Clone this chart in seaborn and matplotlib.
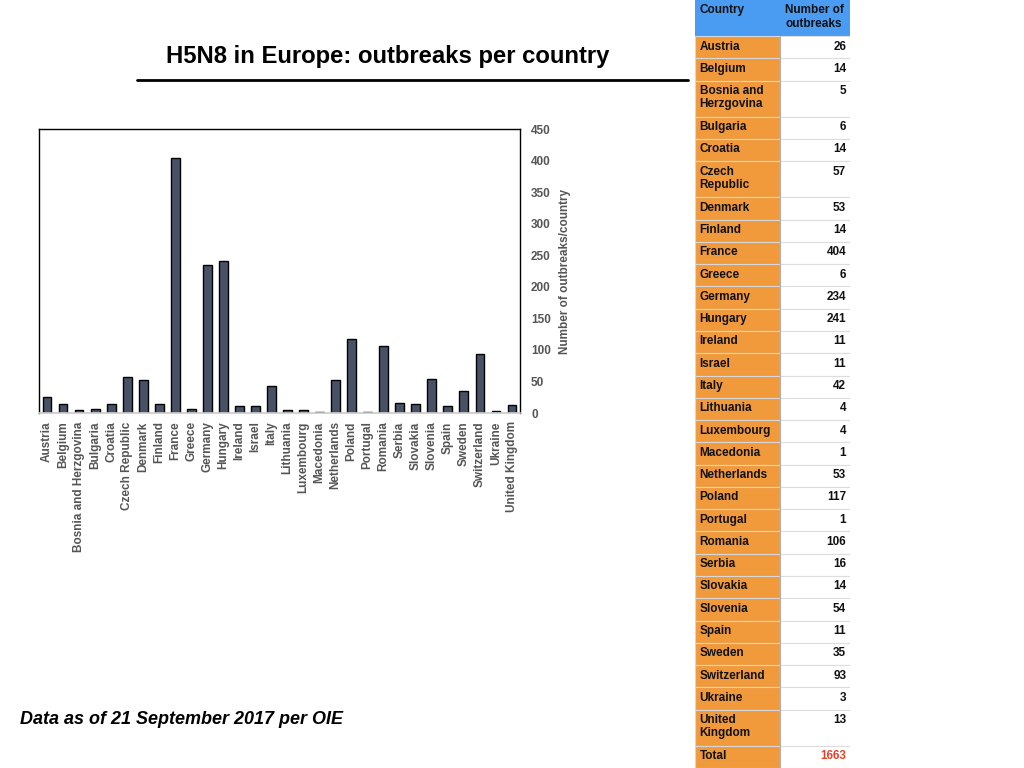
import matplotlib
matplotlib.use("Agg")
import matplotlib.pyplot as plt
from matplotlib.lines import Line2D
from matplotlib.patches import Rectangle
import numpy as np
import seaborn as sns


countries = [
    "Austria", "Belgium", "Bosnia and Herzgovina", "Bulgaria", "Croatia",
    "Czech Republic", "Denmark", "Finland", "France", "Greece", "Germany",
    "Hungary", "Ireland", "Israel", "Italy", "Lithuania", "Luxembourg",
    "Macedonia", "Netherlands", "Poland", "Portugal", "Romania", "Serbia",
    "Slovakia", "Slovenia", "Spain", "Sweden", "Switzerland", "Ukraine",
    "United Kingdom",
]
outbreaks = [
    26, 14, 5, 6, 14, 57, 53, 14, 404, 6, 234, 241, 11, 11, 42, 4, 4, 1,
    53, 117, 1, 106, 16, 14, 54, 11, 35, 93, 3, 13,
]
# table labels as they are wrapped in the side table
table_labels = [
    "Austria", "Belgium", "Bosnia and\nHerzgovina", "Bulgaria", "Croatia",
    "Czech\nRepublic", "Denmark", "Finland", "France", "Greece", "Germany",
    "Hungary", "Ireland", "Israel", "Italy", "Lithuania", "Luxembourg",
    "Macedonia", "Netherlands", "Poland", "Portugal", "Romania", "Serbia",
    "Slovakia", "Slovenia", "Spain", "Sweden", "Switzerland", "Ukraine",
    "United\nKingdom",
]
header = ["Country", "Number of\noutbreaks"]
total_label = "Total"

TITLE = "H5N8 in Europe: outbreaks per country"
NOTE = "Data as of 21 September 2017 per OIE"
YLABEL = "Number of outbreaks/country"

BAR_COLOR = "#485266"
ORANGE = "#f09a3c"
BLUE = "#4a9cf2"
GREY_TXT = "#555555"


def draw_chart(fig):
    ax = fig.add_axes([39 / 1024, 1 - 413 / 768, 481 / 1024, 284 / 768])
    sns.barplot(x=countries, y=outbreaks, color=BAR_COLOR, saturation=1,
                edgecolor="black", linewidth=1, width=0.55, ax=ax)
    ax.set_xlim(-0.5, len(countries) - 0.5)
    ax.set_ylim(0, 450)
    ax.set_yticks(np.arange(0, 451, 50))
    ax.yaxis.tick_right()
    ax.yaxis.set_label_position("right")
    ax.tick_params(axis="y", length=0, pad=8, labelsize=8.5, labelcolor=GREY_TXT)
    for lab in ax.get_yticklabels():
        lab.set_fontweight("bold")
    ax.set_ylabel(YLABEL, fontsize=8.5, fontweight="bold", color=GREY_TXT, labelpad=6)

    ax.set_xticks(range(len(countries)))
    ax.set_xticklabels(countries, rotation=90, fontsize=8.5, fontweight="bold", color=GREY_TXT)
    ax.set_xticks(np.arange(len(countries) + 1) - 0.5, minor=True)
    ax.tick_params(axis="x", which="major", length=0, pad=6)
    ax.tick_params(axis="x", which="minor", length=4, color="#cccccc", width=1)

    for side in ["top", "left", "right"]:
        ax.spines[side].set_color("black")
        ax.spines[side].set_linewidth(1)
        ax.spines[side].set_visible(True)
    ax.spines["bottom"].set_color("#cccccc")
    ax.spines["bottom"].set_visible(True)
    ax.grid(False)


def draw_table(fig):
    tx = fig.add_axes([695 / 1024, 0, 155 / 1024, 1])
    col_split = 85 / 155
    rows = [(header[0], header[1], "header")]
    rows += [(lab, str(v), "body") for lab, v in zip(table_labels, outbreaks)]
    rows += [(total_label, str(sum(outbreaks)), "total")]

    heights = [1.62 if "\n" in a or "\n" in b else 1.0 for a, b, _ in rows]
    tops = np.concatenate([[0], np.cumsum(heights)[:-1]])
    total_h = sum(heights)

    for (left, right, kind), top, h in zip(rows, tops, heights):
        lcol = BLUE if kind == "header" else ORANGE
        rcol = BLUE if kind == "header" else "white"
        tx.add_patch(Rectangle((0, top), col_split, h, facecolor=lcol,
                               edgecolor="#d8d8d8" if kind != "header" else BLUE, lw=0.8))
        tx.add_patch(Rectangle((col_split, top), 1 - col_split, h, facecolor=rcol,
                               edgecolor="#dddddd" if kind != "header" else BLUE, lw=0.8))
        ty = top + 0.2
        tx.text(0.03, ty, left, ha="left", va="top", fontsize=8.5,
                fontweight="bold", color="#111111", linespacing=1.15,
                multialignment="left")
        if kind == "header":
            tx.text(col_split + 0.035, ty, right, ha="left", va="top", fontsize=8.5,
                    fontweight="bold", color="#111111", linespacing=1.15,
                    multialignment="left")
        else:
            tx.text(0.975, ty, right, ha="right", va="top", fontsize=8.5,
                    fontweight="bold", linespacing=1.15,
                    color="#e0442c" if kind == "total" else "#111111")

    tx.plot([col_split, col_split], [tops[1], total_h], color="#b0b0b0", lw=0.8)
    tx.set_xlim(0, 1)
    tx.set_ylim(total_h, 0)
    tx.axis("off")


def main():
    sns.set_theme(style="white")
    plt.rcParams["font.family"] = ["Liberation Sans", "DejaVu Sans"]
    fig = plt.figure(figsize=(10.24, 7.68), dpi=100)
    fig.patch.set_facecolor("white")

    draw_chart(fig)
    draw_table(fig)

    fig.text(388 / 1024, 1 - 56 / 768, TITLE, ha="center", va="center",
             fontsize=17.2, fontweight="bold", color="black")
    fig.add_artist(Line2D([137 / 1024, 688 / 1024], [1 - 80 / 768] * 2,
                          color="black", lw=2))
    fig.text(20 / 1024, 1 - 720 / 768, NOTE, ha="left", va="center",
             fontsize=13, fontweight="bold", style="italic", color="black")

    fig.savefig("out.png", dpi=100)


if __name__ == "__main__":
    main()
